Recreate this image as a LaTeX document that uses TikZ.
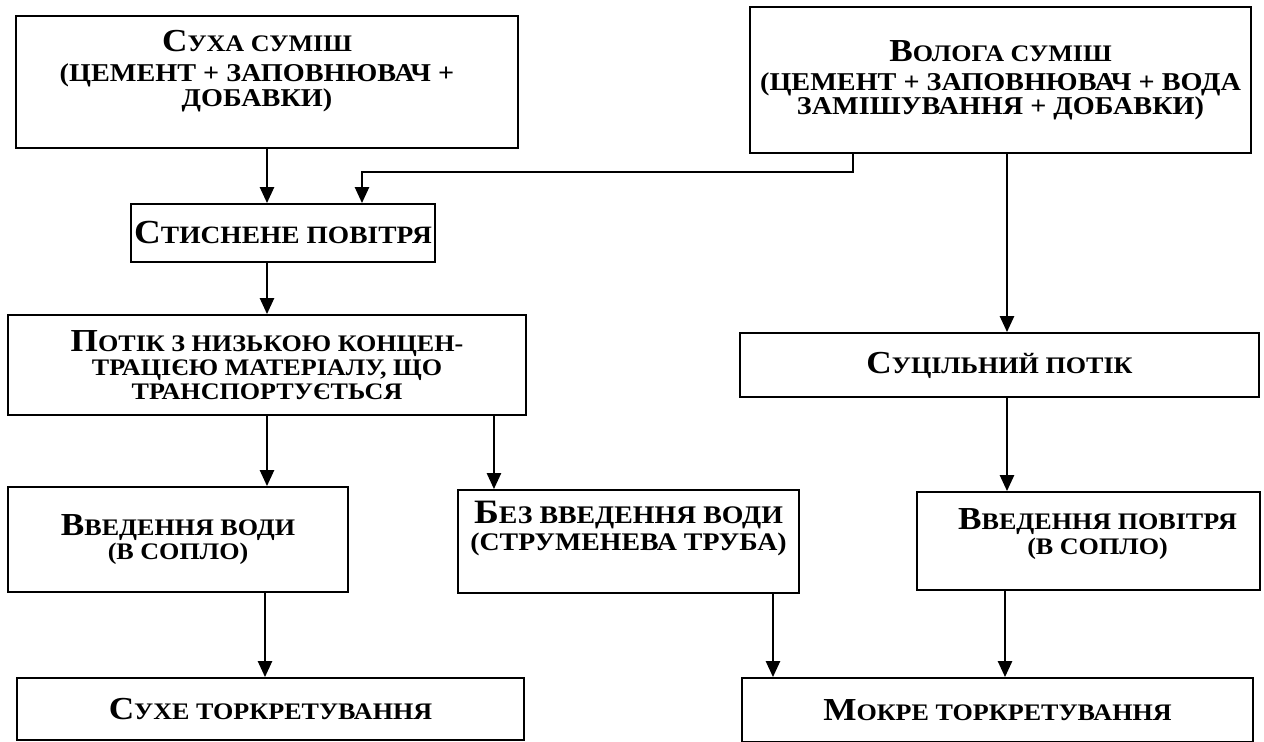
\documentclass[tikz,border=0pt]{standalone}
\usepackage{fontspec}
\usepackage{graphicx}
\setmainfont{Liberation Serif}[FakeStretch=1.1]
\usetikzlibrary{arrows.meta,positioning}

% bigger first letter, like small caps
\newcommand\ini[1]{\scalebox{1.35}{#1}}
% larger lines in brackets
\newcommand\bigline[1]{{\fontsize{14.6}{14}\selectfont #1}}

\tikzset{
  box/.style={draw, rectangle, line width=1.1pt, align=center, inner sep=0pt, font=\bfseries\fontsize{13.5}{13.5}\selectfont},
  txt/.style={align=center, inner sep=0pt, font=\bfseries\fontsize{13.5}{14}\selectfont},
  arr/.style={-{Triangle[length=9pt,width=8pt]}, line width=1.1pt}
}

\begin{document}
\begin{tikzpicture}[x=0.02cm, y=-0.02cm]
\useasboundingbox (0,0) rectangle (1264,742);

\node[box, minimum width=10.04cm, minimum height=2.64cm,
  label={[txt, xshift=-0.2cm, yshift=0.22cm]center:{\ini{С}УХА СУМІШ\\[3pt]\bigline{(ЦЕМЕНТ + ЗАПОВНЮВАЧ +}\\\bigline{ДОБАВКИ)}}}] (dry) at (267,82) {};
\node[box, minimum width=10.02cm, minimum height=2.92cm] (wet) at (1000.5,80) {\ini{В}ОЛОГА СУМІШ\\[3pt]\bigline{(ЦЕМЕНТ + ЗАПОВНЮВАЧ + ВОДА}\\\bigline{ЗАМІШУВАННЯ + ДОБАВКИ)}};
\node[box, minimum width=6.08cm, minimum height=1.16cm, font=\bfseries\fontsize{14.2}{14}\selectfont] (air) at (283,233) {\ini{С}ТИСНЕНЕ ПОВІТРЯ};
\node[box, minimum width=10.36cm, minimum height=2cm] (lean) at (267,365) {\ini{П}ОТІК З НИЗЬКОЮ КОНЦЕН-\\ТРАЦІЄЮ МАТЕРІАЛУ, ЩО\\ТРАНСПОРТУЄТЬСЯ};
\node[box, minimum width=10.38cm, minimum height=1.28cm] (dense) at (999.5,365) {\ini{С}УЦІЛЬНИЙ ПОТІК};
\node[box, minimum width=6.8cm, minimum height=2.1cm] (water) at (178,539.5) {\ini{В}ВЕДЕННЯ ВОДИ\\(В СОПЛО)};
\node[box, minimum width=6.82cm, minimum height=2.06cm,
  label={[txt, yshift=0.26cm, font=\bfseries\fontsize{14.4}{15.5}\selectfont]center:{\ini{Б}ЕЗ ВВЕДЕННЯ ВОДИ\\(СТРУМЕНЕВА ТРУБА)}}] (nowater) at (628.5,541.5) {};
\node[box, minimum width=6.86cm, minimum height=1.96cm,
  label={[txt, xshift=0.18cm, yshift=0.14cm]center:{\ini{В}ВЕДЕННЯ ПОВІТРЯ\\(В СОПЛО)}}] (airin) at (1088.5,541) {};
\node[box, minimum width=10.14cm, minimum height=1.24cm] (dryshot) at (270.5,709) {\ini{С}УХЕ ТОРКРЕТУВАННЯ};
\node[box, minimum width=10.22cm, minimum height=1.28cm] (wetshot) at (997.5,710) {\ini{М}ОКРЕ ТОРКРЕТУВАННЯ};

\draw[arr] (dry.south) -- (dry.south |- air.north);
\draw[arr] ([xshift=-2.95cm]wet.south) -- ++(0,18) -| ([xshift=1.58cm]air.north);
\draw[arr] ([xshift=0.13cm]wet.south) coordinate (w) -- (w |- dense.north);
\draw[arr] (air.south -| lean.north) -- (lean.north);
\draw[arr] (lean.south) -- (lean.south |- water.north);
\draw[arr] ([xshift=4.54cm]lean.south) coordinate (l) -- (l |- nowater.north);
\draw[arr] ([xshift=0.15cm]dense.south) coordinate (d) -- (d |- airin.north);
\draw[arr] ([xshift=-0.11cm]water.south -| dryshot.north) coordinate (v) -- (v |- dryshot.north);
\draw[arr] ([xshift=2.89cm]nowater.south) coordinate (n) -- (n |- wetshot.north);
\draw[arr] ([xshift=-1.67cm]airin.south) coordinate (a) -- (a |- wetshot.north);
\end{tikzpicture}
\end{document}
